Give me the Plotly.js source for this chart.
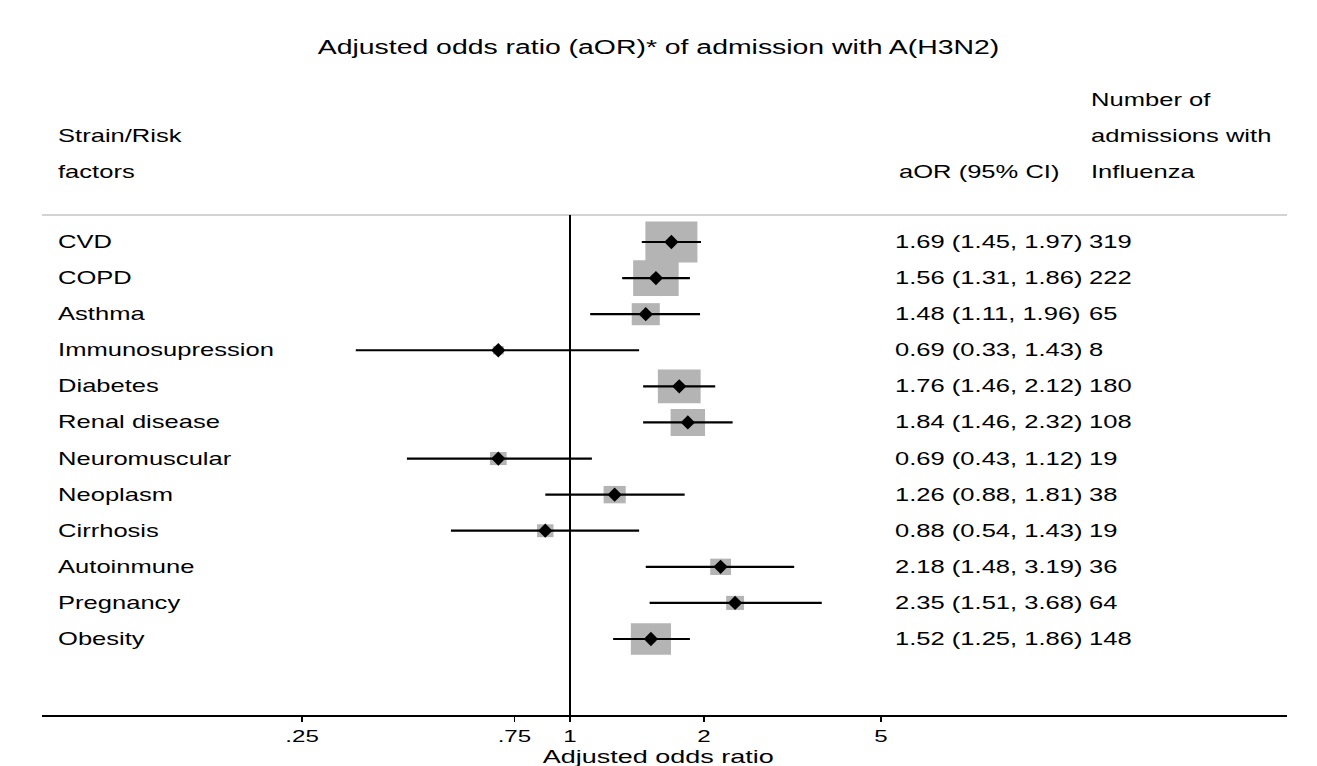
<!DOCTYPE html>
<html>
<head>
<meta charset="utf-8">
<script src="https://cdn.plot.ly/plotly-3.0.1.min.js"></script>
<style>html,body{margin:0;padding:0;background:#fff;}#chart{width:1317px;height:766px;}</style>
</head>
<body>
<div id="chart"></div>
<script>
// ---- data ----
const riskFactors = ['CVD','COPD','Asthma','Immunosupression','Diabetes','Renal disease','Neuromuscular','Neoplasm','Cirrhosis','Autoinmune','Pregnancy','Obesity'];
const aOR   = [1.69, 1.56, 1.48, 0.69, 1.76, 1.84, 0.69, 1.26, 0.88, 2.18, 2.35, 1.52];
const ciLow = [1.45, 1.31, 1.11, 0.33, 1.46, 1.46, 0.43, 0.88, 0.54, 1.48, 1.51, 1.25];
const ciHigh= [1.97, 1.86, 1.96, 1.43, 2.12, 2.32, 1.12, 1.81, 1.43, 3.19, 3.68, 1.86];
const nAdmissions = [319, 222, 65, 8, 180, 108, 19, 38, 19, 36, 64, 148];
const tickVals = [0.25, 0.75, 1, 2, 5];
const tickText = ['.25', '.75', '1', '2', '5'];

// ---- layout helpers (pixels -> paper) ----
const W = 1317, H = 766;
const L = 42, R = 1287, T = 80, B = 715;
const xp = px => (px - L) / (R - L);
const yp = py => (B - py) / (B - T);
const FONT = 'Liberation Sans, Arial, Helvetica, sans-serif';
const FS = 18;
const STRETCH = 1.42;

const rows = riskFactors.map((_, i) => i);
const decade = Math.log10(5) / (881 - 570); // decades per pixel

// CI lines
const lx = [], ly = [];
rows.forEach(i => { lx.push(ciLow[i], ciHigh[i], null); ly.push(i, i, null); });

// weight boxes (size from inverse standard error)
const shapes = [];
rows.forEach(i => {
  const se = Math.log(ciHigh[i] / ciLow[i]) / 3.92;
  const hw = 2.035 / se, h = 3.2 / se;
  shapes.push({type:'rect', layer:'below', xref:'x', yref:'y',
    x0:aOR[i] * Math.pow(10, -hw * decade), x1:aOR[i] * Math.pow(10, hw * decade),
    ysizemode:'pixel', yanchor:i, y0:-h/2, y1:h/2,
    fillcolor:'#b4b4b4', line:{width:0}});
});
shapes.push({type:'line', xref:'paper', yref:'paper', x0:0, x1:1, y0:yp(215), y1:yp(215), line:{color:'#c4c4c4', width:1.5}});
shapes.push({type:'line', xref:'x', yref:'paper', x0:1, x1:1, y0:0, y1:yp(215), line:{color:'#000', width:2}});

const ann = [];
const tf = {family:FONT, size:FS, color:'#000'};
rows.forEach(i => {
  ann.push({xref:'paper', yref:'y', x:xp(56), y:i, xanchor:'left', yanchor:'middle', showarrow:false, text:riskFactors[i], font:tf});
  ann.push({xref:'paper', yref:'y', x:xp(893), y:i, xanchor:'left', yanchor:'middle', showarrow:false,
    text:`${aOR[i].toFixed(2)} (${ciLow[i].toFixed(2)}, ${ciHigh[i].toFixed(2)})`, font:tf});
  ann.push({xref:'paper', yref:'y', x:xp(1087), y:i, xanchor:'left', yanchor:'middle', showarrow:false, text:String(nAdmissions[i]), font:tf});
});
const hdr = (txt, px, py) => ann.push({xref:'paper', yref:'paper', x:xp(px), y:yp(py), xanchor:'left', yanchor:'middle', showarrow:false, text:txt, font:tf});
hdr('Strain/Risk', 56, 136);
hdr('factors', 56, 172);
hdr('aOR (95% CI)', 897, 172);
hdr('Number of', 1089, 100);
hdr('admissions with', 1089, 136);
hdr('Influenza', 1089, 172);
// x-axis title
ann.push({xref:'paper', yref:'paper', x:xp(658), y:yp(756.5), xanchor:'center', yanchor:'middle', showarrow:false,
  text:'Adjusted odds ratio', font:{family:FONT, size:19, color:'#000'}});

const xr = [(L - 570) * decade, (R - 570) * decade];
const rowPx = 36.09;
const yr = [(B - 242) / rowPx, (T - 242) / rowPx];

const traces = [
  {x:lx, y:ly, type:'scatter', mode:'lines', line:{color:'#000', width:2.2}, hoverinfo:'skip', showlegend:false, connectgaps:false},
  {x:aOR, y:rows, type:'scatter', mode:'markers', marker:{symbol:'diamond', size:11, color:'#000'}, showlegend:false}
];

const layout = {
  width:W, height:H, margin:{l:L, r:W-R, t:T, b:H-B}, paper_bgcolor:'#fff', plot_bgcolor:'#fff',
  font:{family:FONT, size:FS, color:'#000'},
  title:{text:'Adjusted odds ratio (aOR)* of admission with A(H3N2)', font:{family:FONT, size:20, color:'#000'}, x:0.5, xanchor:'center', y:1-47/H, yanchor:'middle'},
  xaxis:{type:'log', range:xr, tickvals:tickVals, ticktext:tickText, showgrid:false, zeroline:false,
    showline:true, linecolor:'#000', linewidth:1.8, ticks:'outside', ticklen:5, tickwidth:1.5, tickcolor:'#000',
    tickfont:{family:FONT, size:17, color:'#000'}, automargin:false},
  yaxis:{range:yr, visible:false, showgrid:false, zeroline:false},
  shapes:shapes, annotations:ann, showlegend:false
};

function stretchEl(t, s, mode){
  const bb = t.getBBox();
  const ax = mode === 'left' ? bb.x : bb.x + bb.width / 2;
  const tr = t.getAttribute('transform') || '';
  t.setAttribute('transform', tr + ` translate(${ax},0) scale(${s},1) translate(${-ax},0)`);
}
function stretch(gd, s){
  gd.querySelectorAll('g.annotation').forEach(g => {
    const idx = +g.getAttribute('data-index');
    const a = gd.layout.annotations[idx];
    const t = g.querySelector('.annotation-text');
    if (t) stretchEl(t, s, a && a.xanchor === 'center' ? 'center' : 'left');
  });
  gd.querySelectorAll('.gtitle, .xtick text, .xtick > text').forEach(t => stretchEl(t, s, 'center'));
}

Plotly.newPlot('chart', traces, layout, {displayModeBar:false, staticPlot:true}).then(gd => stretch(gd, STRETCH));
</script>
</body>
</html>
